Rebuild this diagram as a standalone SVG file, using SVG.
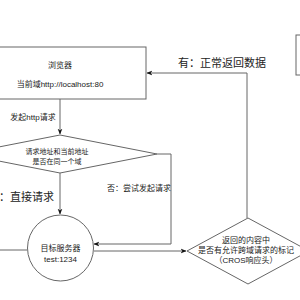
<svg xmlns="http://www.w3.org/2000/svg" width="300" height="300" viewBox="0 0 300 300">
<defs>
<style>
.shape{fill:#fff;stroke:#666;stroke-width:1}
.edge{fill:none;stroke:#666;stroke-width:1}
text{font-family:"Liberation Sans","Noto Sans CJK SC",sans-serif;fill:#222;text-anchor:middle}
.s8{font-size:8px}
.s7{font-size:7px}
.s11{font-size:11px}
</style>
<marker id="arr" viewBox="0 0 10 10" refX="9" refY="5" markerWidth="6" markerHeight="6" orient="auto" markerUnits="userSpaceOnUse">
<path d="M0,1 L10,5 L0,9 L3,5 Z" fill="#111"/>
</marker>
</defs>
<rect width="300" height="300" fill="#fff"/>
<g id="connectors">
<path class="edge" d="M60,99 L60,134" marker-end="url(#arr)"/>
<path class="edge" d="M60,173 L60,214" marker-end="url(#arr)"/>
<path class="edge" d="M157,154 L171,154 L171,244 L94,244" marker-end="url(#arr)"/>
<path class="edge" d="M94,251 L186,251" marker-end="url(#arr)"/>
<path class="edge" d="M247,218 L247,73 L147,73" marker-end="url(#arr)"/>
<path class="edge" d="M0,250 L27,250"/>
<text class="s8" x="33" y="120">发起http请求</text>
<text class="s8" x="139" y="191">否：尝试发起请求</text>
<text class="s11" x="21" y="201">是：直接请求</text>
<text class="s11" x="222" y="67">有：正常返回数据</text>
</g>
<g id="browser">
<rect class="shape" x="-30" y="47" width="176" height="52"/>
<text class="s8" x="60" y="68">浏览器</text>
<text class="s8" x="60" y="87">当前域http://localhost:80</text>
</g>
<g id="same-domain">
<path class="shape" d="M60,135 L157,154 L60,173 L-37,154 Z"/>
<text class="s7" x="57" y="153.5">请求地址和当前地址</text>
<text class="s7" x="57" y="163.5">是否在同一个域</text>
</g>
<g id="server">
<circle class="shape" cx="60.5" cy="248" r="33"/>
<text class="s8" x="60.5" y="250.5">目标服务器</text>
<text class="s8" x="60.5" y="261.5">test:1234</text>
</g>
<g id="cors-check">
<path class="shape" d="M248,218 L309,251 L248,284 L187,251 Z"/>
<text class="s8" x="246" y="242.5">返回的内容中</text>
<text class="s8" x="246" y="253">是否有允许跨域请求的标记</text>
<text class="s8" x="246" y="263">（CROS响应头）</text>
</g>
<g id="right-box">
<rect class="shape" x="296" y="35" width="40" height="40"/>
</g>
</svg>
